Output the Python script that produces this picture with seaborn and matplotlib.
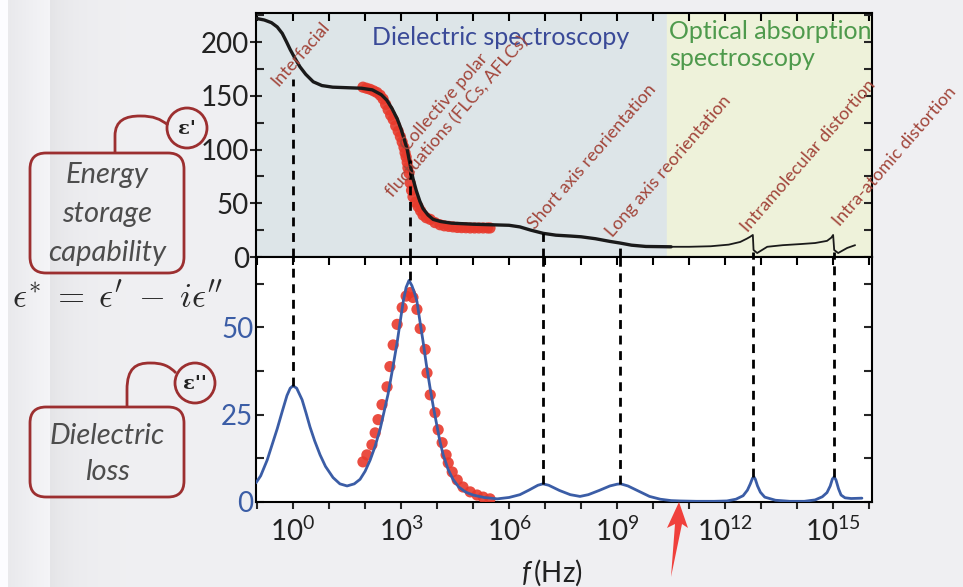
import numpy as np
import pandas as pd
import matplotlib
matplotlib.use("Agg")
import matplotlib.pyplot as plt
import seaborn as sns
from matplotlib.ticker import FixedLocator, NullLocator, FixedFormatter, NullFormatter
from matplotlib.patches import FancyBboxPatch, Circle, PathPatch, Polygon
from matplotlib.path import Path
import matplotlib.transforms as mtransforms

# ---------------------------------------------------------------- data
# real part eps' : log10(f / Hz) and value
real_logf = [-1.03, -0.8, -0.6, -0.44, -0.3, -0.18, -0.08, 0.05, 0.19, 0.35, 0.56, 0.8,
             1.1, 1.5, 1.9, 2.2, 2.45, 2.6, 2.75, 2.9, 3.0, 3.1, 3.17, 3.25, 3.33, 3.42,
             3.52, 3.61, 3.75, 3.89, 4.1, 4.4, 5.0, 5.5, 6.0, 6.3, 6.6, 6.95, 7.3, 7.7,
             8.0, 8.4, 8.8, 9.08, 9.4, 9.8, 10.5, 11.0, 11.6, 12.1, 12.42, 12.6, 12.69,
             12.77, 12.79, 12.89, 13.17, 13.6, 14.08, 14.5, 14.83, 14.95, 15.0, 15.03,
             15.14, 15.39, 15.61]
real_eps = [222, 220.5, 218, 214, 208, 200, 193, 185, 177, 170, 163, 159.5,
            158, 157.5, 157, 155.5, 151, 146, 138, 128, 119, 108, 100, 86, 73, 62,
            52, 45, 39, 35, 33, 31.5, 30.5, 30, 29.5, 28, 25, 22, 20.3, 19.5,
            18.8, 17, 14.5, 13, 11, 9.8, 9.5, 9.5, 10, 11.5, 14, 17, 18.7,
            20.5, 6.5, 3.7, 9.5, 11, 12, 13, 15, 18, 20.5, 6.5,
            3.7, 8.4, 11]

# imaginary part eps'' : log10(f / Hz) and value
imag_logf = [-1.03, -0.9, -0.72, -0.58, -0.44, -0.3, -0.17, -0.08, 0.0, 0.1, 0.25, 0.36,
             0.47, 0.6, 0.75, 0.9, 1.11, 1.3, 1.5, 1.7, 1.86, 2.0, 2.14, 2.28, 2.42,
             2.53, 2.64, 2.77, 2.89, 2.98, 3.06, 3.14, 3.22, 3.3, 3.37, 3.44, 3.52,
             3.61, 3.7, 3.8, 3.9, 4.0, 4.08, 4.17, 4.3, 4.44, 4.6, 4.8, 5.0, 5.3,
             5.67, 6.0, 6.3, 6.55, 6.8, 6.94, 7.1, 7.4, 7.7, 7.97, 8.2, 8.5, 8.8,
             9.0, 9.1, 9.3, 9.6, 9.9, 10.2, 10.5, 10.75, 11.2, 11.7, 12.05, 12.3,
             12.5, 12.62, 12.7, 12.76, 12.8, 12.84, 12.9, 12.98, 13.1, 13.4, 13.8,
             14.2, 14.5, 14.7, 14.83, 14.92, 14.98, 15.03, 15.08, 15.15, 15.22,
             15.33, 15.5, 15.8]
imag_eps = [5.5, 7.5, 12, 16.5, 21, 26, 30.5, 32.6, 33.3, 32.6, 29.3, 25.5,
            21.5, 17.5, 13.5, 10.2, 7.0, 5.2, 4.6, 5.2, 6.5, 8.8, 12, 16, 21,
            26, 31, 38.5, 45.7, 52, 57.5, 61.5, 63.5, 62, 60, 57.5, 52,
            46, 39.5, 33, 27, 21.6, 17.3, 13.5, 9.5, 6.5, 4.3, 2.8, 2.0, 1.3,
            0.9, 1.3, 2.1, 3.4, 4.8, 5.2, 4.8, 3.3, 2.1, 1.6, 2.1, 3.3, 4.6,
            5.1, 5.2, 4.6, 3.1, 1.6, 0.8, 0.4, 0.3, 0.2, 0.2, 0.3, 0.8,
            1.8, 3.4, 5.2, 6.8, 7.2, 6.5, 4.6, 2.8, 1.4, 0.5, 0.2,
            0.2, 0.6, 1.5, 2.7, 4.6, 6.6, 7.2, 6.3, 3.8, 2.0,
            1.2, 1.0, 1.1]

# measured points
meas_real_logf = [1.94, 2.04, 2.14, 2.24, 2.33, 2.42, 2.5, 2.57, 2.64, 2.71, 2.78, 2.85,
                  2.92, 2.98, 3.03, 3.08, 3.11, 3.14, 3.17, 3.19, 3.22, 3.25, 3.29, 3.33,
                  3.4, 3.47, 3.54, 3.61, 3.7, 3.81, 3.94, 4.08, 4.2, 4.32, 4.44, 4.56,
                  4.68, 4.8, 4.92, 5.04, 5.16, 5.28, 5.4, 5.47]
meas_real_eps = [158, 157, 156, 154.5, 153, 150.5, 147, 142, 137, 132, 128, 122,
                 117, 112, 107, 102, 97, 93, 88, 83, 78, 69, 62, 56,
                 51, 47, 43, 39, 36.5, 35, 32, 30, 29, 28.5, 28, 27.5,
                 27.3, 27.2, 27, 27, 27, 27, 27, 27]
meas_imag_logf = [1.94, 2.05, 2.19, 2.28, 2.36, 2.47, 2.61, 2.69, 2.78, 2.89, 3.03, 3.14,
                  3.25, 3.33, 3.44, 3.53, 3.67, 3.72, 3.81, 3.94, 4.03, 4.14, 4.25, 4.31,
                  4.42, 4.56, 4.72, 4.92, 5.11, 5.28, 5.47]
meas_imag_eps = [11.5, 13.5, 16.4, 19.8, 23.6, 27.9, 33, 38.8, 45, 50.9, 55.7, 59,
                 60, 58.6, 55.2, 49.7, 43.7, 37, 30.7, 25.6, 20.7, 17, 13.5, 11.2,
                 8.6, 6.3, 4.3, 2.9, 2.0, 1.4, 0.9]

# relaxation / resonance modes
mode_logf = [0.0, 3.25, 6.94, 9.08, 12.78, 15.03]
mode_real_eps = [166, 90, 22, 13, 5, 5]
mode_imag_eps = [33.3, 63.5, 5.2, 5.2, 7.2, 7.2]
mode_names = ["Interfacial", "Collective polar", "fluctuations (FLCs, AFLCs)",
              "Short axis reorientation", "Long axis reorientation",
              "Intramolecular distortion", "Intra-atomic distortion"]

xtick_logf = [0, 3, 6, 9, 12, 15]
xtick_labels = ["$10^{0}$", "$10^{3}$", "$10^{6}$", "$10^{9}$", "$10^{12}$", "$10^{15}$"]
real_ticks = [0, 50, 100, 150, 200]
imag_ticks = [0, 25, 50]

# ---------------------------------------------------------------- style
sns.set_theme(style="white")
plt.rcParams["font.family"] = ["Lato", "DejaVu Sans"]
plt.rcParams["mathtext.fontset"] = "custom"
plt.rcParams["mathtext.rm"] = "Lato"
plt.rcParams["mathtext.it"] = "Lato:italic"
plt.rcParams["mathtext.bf"] = "Lato:bold"

BLACK = "#1a1a1a"
BLUE = "#3b5da6"
RED = "#e83a2c"
LABEL = "#a2463b"
FRAME = "#9c2f30"
W, H = 963, 587

fig = plt.figure(figsize=(W / 100, H / 100), dpi=100)
fig.patch.set_facecolor("#eeeef1")
px = mtransforms.Affine2D().scale(1 / W, -1 / H).translate(0, 1) + fig.transFigure

# page background with a soft fold on the left
bg = fig.add_axes([0, 0, 1, 1], zorder=-10)
xs = np.arange(W)
shade = np.full(W, 0.935)
shade[:8] = 0.99
m = (xs >= 8) & (xs < 50)
shade[m] = 0.915 + 0.045 * (xs[m] - 8) / 42
m = (xs >= 50) & (xs < 140)
shade[m] = 0.895 + 0.045 * (1 - np.exp(-(xs[m] - 50) / 25))
shade[xs >= 140] = 0.94
img = np.dstack([shade, shade, shade * 1.012]).clip(0, 1)
bg.imshow(img, aspect="auto", extent=[0, 1, 0, 1])
bg.axis("off")

xlim = (10 ** -1.03, 10 ** 16.08)
ax_top = fig.add_axes([256 / W, 1 - 257 / H, 616 / W, 244 / H])
ax_bot = fig.add_axes([256 / W, 1 - 502 / H, 616 / W, 245 / H])

# ---------------------------------------------------------------- eps'
real_df = pd.DataFrame({"f": 10.0 ** np.array(real_logf), "eps": real_eps})
split = np.array(real_logf) <= 10.6
ax_top.axvspan(xlim[0], 10 ** 10.39, color="#dde5e8", zorder=0)
ax_top.axvspan(10 ** 10.39, xlim[1], color="#eef2da", zorder=0)
sns.scatterplot(x=10.0 ** np.array(meas_real_logf), y=meas_real_eps, ax=ax_top,
                color=RED, s=65, edgecolor="none", alpha=0.9, zorder=3)
sns.lineplot(data=real_df[split], x="f", y="eps", ax=ax_top, color=BLACK,
             linewidth=2.4, estimator=None, sort=False, zorder=4)
sns.lineplot(data=real_df.iloc[int(split.sum()) - 1:], x="f", y="eps", ax=ax_top,
             color=BLACK, linewidth=1.3, estimator=None, sort=False, zorder=4)
ax_top.vlines(10.0 ** np.array(mode_logf), 0, mode_real_eps, colors="black",
              linestyles=(0, (3.2, 2.4)), linewidth=2, zorder=5)

# ---------------------------------------------------------------- eps''
imag_df = pd.DataFrame({"f": 10.0 ** np.array(imag_logf), "eps": imag_eps})
sns.scatterplot(x=10.0 ** np.array(meas_imag_logf), y=meas_imag_eps, ax=ax_bot,
                color=RED, s=65, edgecolor="none", alpha=0.9, zorder=3)
sns.lineplot(data=imag_df, x="f", y="eps", ax=ax_bot, color=BLUE, linewidth=2.0,
             estimator=None, sort=False, zorder=4)
ax_bot.vlines(10.0 ** np.array(mode_logf), mode_imag_eps, 70.2, colors="black",
              linestyles=(0, (3.2, 2.4)), linewidth=2, zorder=5)
ax_bot.set_facecolor("white")

# ---------------------------------------------------------------- axes
for ax in (ax_top, ax_bot):
    ax.set_xscale("log")
    ax.set_xlim(*xlim)
    ax.set_xlabel("")
    ax.set_ylabel("")
    for s in ax.spines.values():
        s.set_visible(True)
        s.set_color("black")
        s.set_linewidth(1.5)
    ax.xaxis.set_major_locator(FixedLocator(10.0 ** np.array(xtick_logf)))
    ax.xaxis.set_minor_locator(FixedLocator(10.0 ** np.arange(-1, 17)))
    ax.xaxis.set_minor_formatter(NullFormatter())
    sec = ax.secondary_xaxis("top")
    sec.xaxis.set_major_locator(FixedLocator(10.0 ** np.arange(-1, 17)))
    sec.xaxis.set_minor_locator(NullLocator())
    sec.tick_params(direction="in", length=6, width=1.5, labeltop=False, color="black")

ax_top.set_ylim(0, 227)
ax_top.yaxis.set_major_locator(FixedLocator(real_ticks))
ax_top.yaxis.set_minor_locator(FixedLocator(np.arange(25, 226, 50)))
ax_top.tick_params(axis="x", which="both", bottom=False, labelbottom=False)
ax_top.tick_params(axis="y", which="major", direction="inout", length=8, width=1.5,
                   labelsize=20, labelcolor="#222222", left=True, pad=1)
ax_top.tick_params(axis="y", which="minor", direction="in", length=6, width=1.5, left=True)
rt = ax_top.secondary_yaxis("right")
rt.yaxis.set_major_locator(FixedLocator(np.arange(0, 226, 25)))
rt.tick_params(direction="in", length=6, width=1.5, labelright=False)

ax_bot.set_ylim(0, 70.2)
ax_bot.yaxis.set_major_locator(FixedLocator(imag_ticks))
ax_bot.yaxis.set_minor_locator(FixedLocator([12.5, 37.5, 62.5]))
ax_bot.tick_params(axis="y", which="both", direction="in", length=6, width=1.5,
                   labelsize=20, labelcolor=BLUE, left=True, pad=2)
ax_bot.tick_params(axis="x", which="both", direction="out", length=5, width=1.5,
                   bottom=True, labelsize=20, labelcolor="#222222", pad=6)
ax_bot.xaxis.set_major_formatter(FixedFormatter(xtick_labels))
rb = ax_bot.secondary_yaxis("right")
rb.yaxis.set_major_locator(FixedLocator(np.arange(0, 70, 12.5)))
rb.tick_params(direction="in", length=6, width=1.5, labelright=False)
ax_bot.set_xlabel("$f\\,$(Hz)", fontsize=20, color="#222222")
ax_bot.xaxis.set_label_coords(0.48, -0.225)

# ---------------------------------------------------------------- texts
ax_top.text(10 ** 2.19, 204, "Dielectric spectroscopy", color="#3a4a98",
            fontsize=18, ha="left", va="center")
ax_top.text(10 ** 10.44, 197, "Optical absorption\nspectroscopy", color="#4e9a4c",
            fontsize=18, ha="left", va="center", linespacing=1.2)

label_pos = [(-0.4, 158), (3.19, 98), (2.78, 55), (6.72, 25), (8.89, 18),
             (12.64, 22), (15.2, 28)]
for name, (lf, v) in zip(mode_names, label_pos):
    ax_top.text(10 ** lf, v, name, rotation=49, rotation_mode="anchor", ha="left",
                va="baseline", color=LABEL, fontsize=13, clip_on=False, zorder=6)

# left-hand annotation boxes
for (x0, y0, x1, y1) in [(30, 153, 184, 273), (30, 407, 184, 497)]:
    fig.patches.append(FancyBboxPatch((x0, y0), x1 - x0, y1 - y0,
                                      boxstyle="round,pad=0,rounding_size=16",
                                      transform=px, fill=False, edgecolor=FRAME,
                                      linewidth=2.0))
for (cx, cy, s) in [(187, 128, "ε'"), (195, 383, "ε''")]:
    fig.patches.append(Circle((cx, cy), 20, transform=px, fill=False,
                              edgecolor=FRAME, linewidth=2.0))
    fig.text(cx, cy + 1, s, transform=px, ha="center", va="center", fontsize=14,
             family="DejaVu Serif", fontweight="bold", color="#222222")

for pts in [[(115, 153), (115, 136), (115, 120), (126, 116), (140, 116),
             (154, 116), (160, 119), (168, 125)],
            [(127, 407), (127, 390), (127, 368), (136, 363), (150, 363),
             (163, 363), (169, 366), (176, 373)]]:
    codes = [Path.MOVETO, Path.LINETO, Path.CURVE4, Path.CURVE4, Path.CURVE4,
             Path.CURVE4, Path.CURVE4, Path.CURVE4]
    fig.patches.append(PathPatch(Path(pts, codes), transform=px, fill=False,
                                 edgecolor=FRAME, linewidth=2.0))

fig.text(107, 214, "Energy\nstorage\ncapability", transform=px, ha="center",
         va="center", fontsize=21, style="italic", color="#4d4d4d", linespacing=1.62)
fig.text(107, 454, "Dielectric\nloss", transform=px, ha="center", va="center",
         fontsize=21, style="italic", color="#4d4d4d", linespacing=1.45)
fig.text(12, 297,
         r"$\epsilon^{*}\;=\;\epsilon^{\prime}\;-\;i\epsilon^{\prime\prime}$",
         transform=px, ha="left", va="center", fontsize=25, math_fontfamily="cm",
         color="#2a2a2a")

# red arrow under the frequency axis
fig.patches.append(Polygon([(679, 502), (688, 528), (682, 524), (671, 577),
                            (675, 524), (667, 528)], closed=True, transform=px,
                           facecolor="#f0403c", edgecolor="none"))

fig.savefig("out.png", dpi=100, facecolor=fig.get_facecolor())
